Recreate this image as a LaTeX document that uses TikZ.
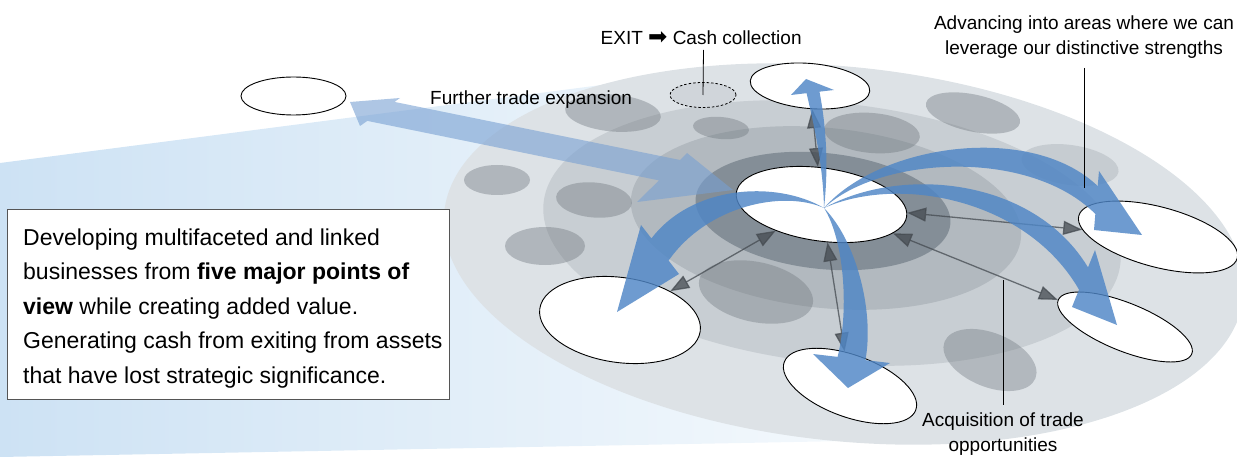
\documentclass[tikz,border=0pt]{standalone}
\usepackage{fontspec}
\setmainfont{Liberation Sans}
\newfontfamily\symfont{DejaVu Sans}
\usetikzlibrary{arrows.meta,calc,shapes.geometric}
\definecolor{beamL}{HTML}{CDE2F4}
\definecolor{beamR}{HTML}{F6FAFD}
\definecolor{diskA}{HTML}{DDE2E6}
\definecolor{diskB}{HTML}{C8CED3}
\definecolor{diskC}{HTML}{B2B9BF}
\definecolor{ringc}{HTML}{7F8A93}
\definecolor{blobc}{HTML}{6E767D}
\definecolor{arrblue}{HTML}{4F86C6}
\definecolor{tradeblue}{HTML}{78A0D2}
\definecolor{connc}{HTML}{454B51}
\definecolor{boxline}{HTML}{555555}
\definecolor{exitfill}{HTML}{D0D5DA}
\newcommand{\grayblob}[6]{\fill[blobc, fill opacity=#6, rotate around={#5:(#1,#2)}] (#1,#2) ellipse [x radius=#3pt, y radius=#4pt];}
\newcommand{\taperarrow}[8]{%
  \coordinate (El) at ($(#4)!#5!(#6)$);
  \coordinate (Er) at ($(#4)!#5!(#8)$);
  \fill[bluearr] (#1) .. controls ($(#2)+0.45*(El)-0.45*(#4)$) and ($(#3)+0.9*(El)-0.9*(#4)$) .. (El)
    -- (#6) -- (#7) -- (#8) -- (Er)
    .. controls ($(#3)+0.9*(Er)-0.9*(#4)$) and ($(#2)+0.45*(Er)-0.45*(#4)$) .. cycle;}
\begin{document}
\begin{tikzpicture}[x=1pt,y=-1pt,
  satell/.style={ellipse, draw=black, fill=white, line width=0.9pt, inner sep=0pt},
  bluearr/.style={fill=arrblue, fill opacity=0.82},
  connarr/.style={draw=connc, line width=1.3pt, opacity=0.75,
    arrows={Triangle[length=19pt,width=14pt]-Triangle[length=19pt,width=14pt]}},
  leader/.style={draw=black, line width=0.8pt},
  lbl/.style={font=\fontsize{19}{25}\selectfont, inner sep=0pt, align=center}]
\useasboundingbox (0,0) rectangle (1237,457);
% light blue beam
\shade[left color=beamL, right color=beamR] (0,163) -- (640,80) -- (900,440) -- (0,457) -- cycle;
% disk layers
\fill[diskA, rotate around={-6:(844,254)}] (844,254) ellipse [x radius=402pt, y radius=187pt];
\fill[diskB, rotate around={-6:(832,233)}] (832,233) ellipse [x radius=290pt, y radius=130pt];
\fill[diskC, rotate around={-6:(826,218)}] (826,218) ellipse [x radius=196pt, y radius=90pt];
% gray blobs
\grayblob{613}{113}{48}{18.5}{-5}{0.4}
\grayblob{721}{128}{28}{11}{-5}{0.4}
\grayblob{497}{180}{33}{15}{0}{0.4}
\grayblob{594}{200}{38}{17.5}{-5}{0.4}
\grayblob{545}{246}{40}{19}{0}{0.4}
\grayblob{872}{133}{48}{20}{-5}{0.4}
\grayblob{973}{113}{48}{18.5}{-12}{0.4}
\grayblob{1070}{165}{49}{20}{-8}{0.2}
\grayblob{756}{292}{58}{30}{-12}{0.38}
\grayblob{990}{360}{49}{27}{-22}{0.38}
% dark ring
\fill[ringc, fill opacity=0.9, rotate around={-6:(823,211)}] (823,211) ellipse [x radius=128pt, y radius=58pt];
% further trade expansion arrow
\fill[tradeblue, fill opacity=0.6] (394.5,101.9) -- (400,98) -- (350,102) -- (360,126) -- (367.3,120.9)
  -- (659,180.4) -- (637,202) -- (733,190) -- (687,153) -- (680,160) -- cycle;
% ellipses
\node[satell, minimum width=172pt, minimum height=73pt, rotate=-8] (center) at (821.5,204.5) {};
\node[satell, minimum width=120pt, minimum height=45pt, rotate=-5] (top) at (810,86) {};
\node[satell, minimum width=164pt, minimum height=60pt, rotate=-15] (rtop) at (1158,237) {};
\node[satell, minimum width=144pt, minimum height=48pt, rotate=-22] (rbot) at (1125,327) {};
\node[satell, minimum width=140pt, minimum height=62pt, rotate=-20] (bot) at (850,386) {};
\node[satell, minimum width=162pt, minimum height=85pt, rotate=-8] (lbot) at (620,320) {};
\node[satell, minimum width=105pt, minimum height=38pt] (far) at (293.5,96) {};
\node[ellipse, draw=black, line width=0.8pt, dash pattern=on 2.5pt off 2pt, fill=exitfill,
  minimum width=66pt, minimum height=25pt, inner sep=0pt] (exitell) at (703,95) {};
% gray connectors
\draw[connarr] (center) -- (top);
\draw[connarr] (center) -- (rtop);
\draw[connarr] (center) -- (rbot);
\draw[connarr] (center) -- (bot);
\draw[connarr] (center) -- (lbot);
% blue arrows
\coordinate (S) at (824,208);
\taperarrow{S}{826,165}{820,125}{813,92.4}{6.5pt}{791,95}{806,79}{834,90}
\taperarrow{S}{780,185}{700,195}{660,249.5}{14pt}{641,225}{617,312}{679,274}
\taperarrow{S}{850,240}{862,310}{851.5,358.5}{14pt}{813,354}{848,388}{890,363}
\taperarrow{S}{880,150}{1030,135}{1096.5,200}{14pt}{1099,171}{1142,235}{1094,230}
\taperarrow{S}{900,170}{1030,188}{1083.5,278.5}{12pt}{1095,250}{1117,325}{1072,307}
% text box
\node[draw=boxline, line width=1pt, fill=white, minimum width=442pt, minimum height=190pt,
  anchor=north west, inner sep=0pt] (box) at (7,209) {};
\node[anchor=north west, inner sep=0pt, align=left, font=\fontsize{23}{34.5}\selectfont] (boxtext) at (23,228.3)
  {Developing multifaceted and linked\\
   businesses from \textbf{five major points of}\\
   \textbf{view} while creating added value.\\
   Generating cash from exiting from assets\\
   that have lost strategic significance.};
% labels
\node[lbl, anchor=base west] (fte) at (430,105) {Further trade expansion};
\node[lbl, anchor=base west] (exitlbl) at (600.5,45) {EXIT {\symfont\fontsize{23}{23}\selectfont ➡} Cash collection};
\node[lbl, anchor=north] (adv) at (1084,16) {Advancing into areas where we can\\leverage our distinctive strengths};
\node[lbl, anchor=north] (acq) at (1003,412.5) {Acquisition of trade\\opportunities};
% leaders
\coordinate (cashA) at (703.5,50);
\draw[leader] (cashA) -- (exitell.center);
\coordinate (advA) at (1084,68);
\coordinate (advB) at (1084,188);
\draw[leader] (advA) -- (advB);
\coordinate (acqA) at (1003,280);
\coordinate (acqB) at (1003,405);
\draw[leader] (acqA) -- (acqB);
\end{tikzpicture}
\end{document}
